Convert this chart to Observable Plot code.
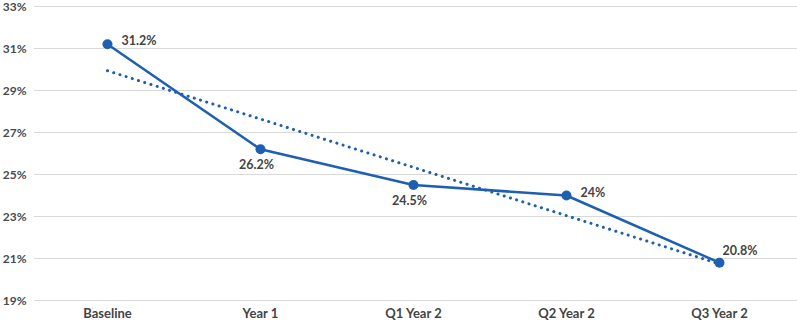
<!DOCTYPE html>
<html><head><meta charset="utf-8">
<script src="https://cdn.jsdelivr.net/npm/d3@7"></script>
<script src="https://cdn.jsdelivr.net/npm/@observablehq/plot@0.6"></script>
<style>body{margin:0;background:#fff;font-family:Lato,"Open Sans",sans-serif;}</style>
</head><body><div id="chart"></div>
<script>
const categories = ["Baseline", "Year 1", "Q1 Year 2", "Q2 Year 2", "Q3 Year 2"];
const values = [31.2, 26.2, 24.5, 24.0, 20.8];
const labelPos = ["right", "below", "below", "right", "rightUp"];
const yTicks = [19, 21, 23, 25, 27, 29, 31, 33];

const data = categories.map((c, i) => ({i, c, v: values[i], pos: labelPos[i]}));
const blue = "#1d5fb0";
const txt = "#444";

const labelMark = (pos, opts) => Plot.text(data.filter(d => d.pos === pos), {
  x: "i", y: "v", text: d => d.v + "%", fill: txt, fontWeight: "bold", fontSize: 12.5, ...opts
});

const chart = Plot.plot({
  width: 797, height: 323,
  marginLeft: 34, marginRight: 0, marginTop: 6, marginBottom: 23,
  style: {fontFamily: "Lato, sans-serif", background: "#fff", overflow: "visible"},
  x: {domain: [-0.477, 4.51], label: null},
  y: {domain: [19, 33], label: null},
  marks: [
    Plot.gridY(yTicks, {stroke: "#d9d9d9", strokeOpacity: 1, strokeWidth: 1}),
    Plot.axisX({ticks: [0,1,2,3,4], tickFormat: i => categories[i], tickSize: 0, tickPadding: 8.5, fontWeight: "bold", fontSize: 13, fill: txt, label: null}),
    Plot.axisY({ticks: yTicks, tickFormat: d => d + "%", tickSize: 0, tickPadding: 8, fontWeight: "bold", fontSize: 12, fill: "#4a4a4a", label: null, dy: 0.5}),
    Plot.linearRegressionY(data, {x: "i", y: "v", stroke: blue, strokeWidth: 3, strokeDasharray: "0.1,6.4", strokeLinecap: "round", ci: 0}),
    Plot.line(data, {x: "i", y: "v", stroke: blue, strokeWidth: 2.5}),
    Plot.dot(data, {x: "i", y: "v", r: 5, fill: blue}),
    labelMark("right", {textAnchor: "start", dx: 14, dy: -3}),
    labelMark("below", {textAnchor: "middle", dx: -4, dy: 16}),
    labelMark("rightUp", {textAnchor: "start", dx: 3, dy: -12})
  ]
});
document.getElementById("chart").appendChild(chart);
</script>
</body></html>
